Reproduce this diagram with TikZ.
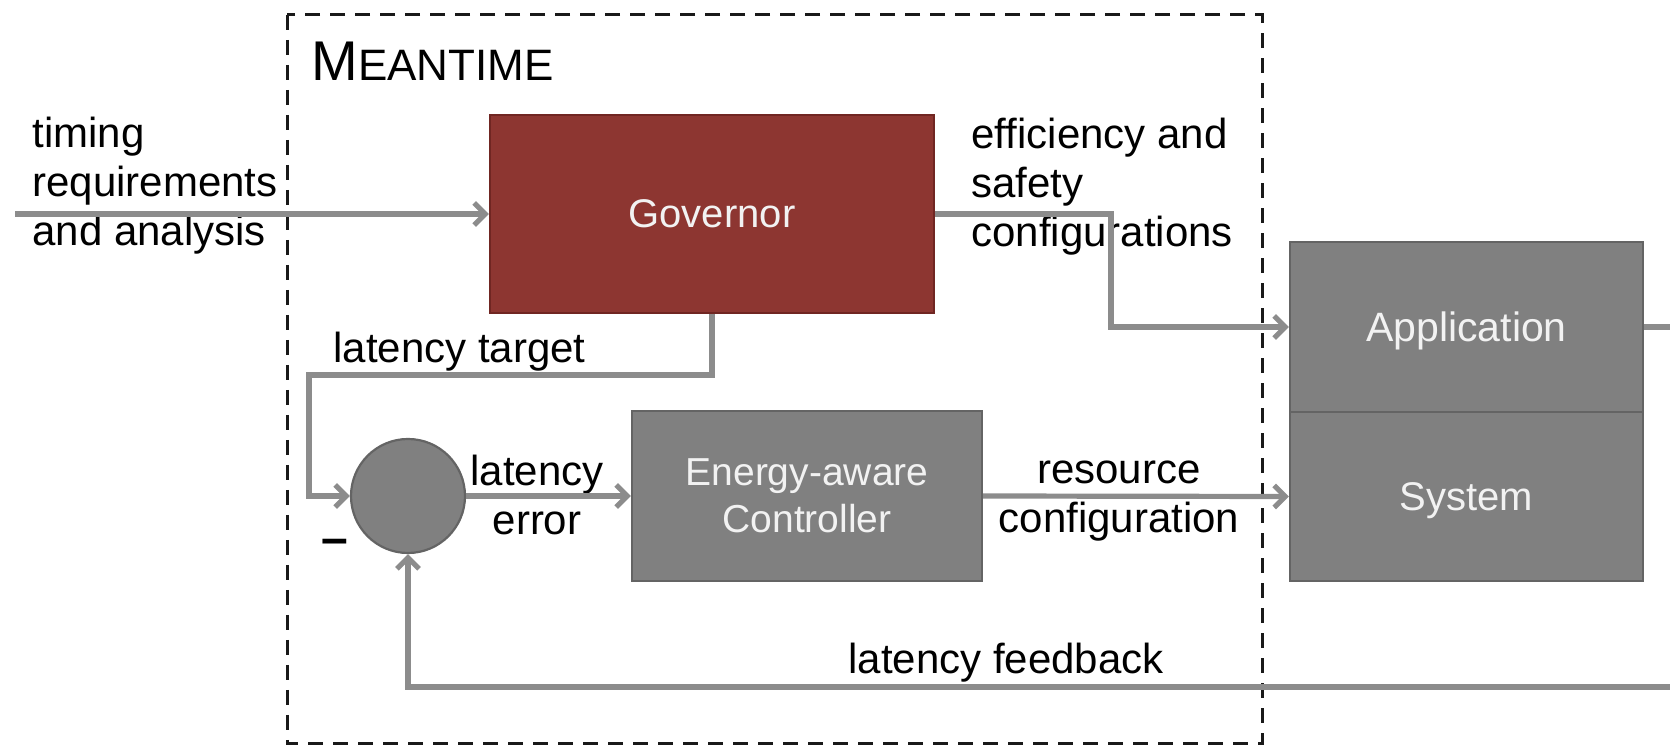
\documentclass[tikz,border=0pt]{standalone}
\usepackage{fontspec}
\setmainfont{Liberation Sans}
\usetikzlibrary{arrows.meta}

\definecolor{govred}{RGB}{141,54,49}
\definecolor{govedge}{RGB}{112,38,34}
\definecolor{boxgray}{RGB}{128,128,128}
\definecolor{boxedge}{RGB}{100,100,100}
\definecolor{wiregray}{RGB}{140,140,140}
\definecolor{boxtext}{RGB}{242,242,242}

\tikzset{
  x=0.5pt, y=-0.5pt,
  block/.style={draw=boxedge, fill=boxgray, line width=1.1pt, text=boxtext,
    align=center, inner sep=0pt,
    font=\fontsize{19.5}{23.5}\selectfont},
  govblock/.style={block, draw=govedge, fill=govred},
  wire/.style={draw=wiregray, line width=2.6pt},
  arr/.style={wire, -{Straight Barb[length=5.5pt,width=11pt]}},
  lbl/.style={inner sep=0pt, text=black, font=\fontsize{21}{24.5}\selectfont},
  frame/.style={draw=black!90, line width=1.5pt, dash pattern=on 7.5pt off 5pt},
}

\begin{document}
\begin{tikzpicture}
\useasboundingbox (0,0) rectangle (1670,747);

% enclosing dashed frame
\draw[frame] (287,15) rectangle (1262,744);
\node[lbl, anchor=base west] (title) at (311,81)
  {{\fontsize{28}{28}\selectfont M}{\fontsize{22}{22}\selectfont EANTIME}};

% blocks
\node[govblock, minimum width=222pt, minimum height=99pt,
      font=\fontsize{20}{24}\selectfont] (gov) at (712,214) {Governor};
\node[block, minimum width=175pt, minimum height=85pt] (ctrl) at (807,496) {Energy-aware\\Controller};
\node[block, minimum width=176.5pt, minimum height=85pt, text depth=0pt,
      font=\fontsize{20.5}{24}\selectfont] (app) at (1466.5,327) {Application};
\node[block, minimum width=176.5pt, minimum height=84.5pt, text depth=0pt,
      font=\fontsize{20}{24}\selectfont] (sys) at (1466.5,496.5) {System};
\node[circle, draw=boxedge, fill=boxgray, line width=1.1pt, minimum size=57pt, inner sep=0pt] (sum) at (408,496) {};

% labels
\node[lbl, anchor=west, align=left] (inlbl) at (32,186) {timing\\requirements\\and analysis};
\node[lbl, anchor=west, align=left] (efflbl) at (971,187) {efficiency and\\safety\\configurations};
\node[lbl, anchor=west] (tgtlbl) at (333,352) {latency target};
\node[lbl, align=center] (errlbl) at (537,495) {latency\\error};
\node[lbl, align=center] (reslbl) at (1119,501) {resource\\configuration};
\node[lbl] (fblbl) at (1006,663) {latency feedback};
\node[lbl, font=\fontsize{24}{24}\selectfont\bfseries] (minus) at (335,547) {–};

% turning points and free ends
\coordinate (src) at (15,214);
\coordinate (k1) at (1111,0);
\coordinate (k2) at (309,375);
\coordinate (appout) at (1672,327);
\coordinate (fbin) at (1672,687);

% connectors
\draw[arr] (src) -- (gov.west);
\draw[arr] (gov.east) -- (gov.east -| k1) -- (app.west -| k1) -- (app.west);
\draw[arr] (gov.south) |- (k2) |- (sum.west);
\draw[arr] (sum.east) -- (ctrl.west);
\draw[arr] (ctrl.east) -- (sys.west);
\draw[wire] (app.east) -- (appout);
\draw[arr] (fbin) -| (sum.south);
\end{tikzpicture}
\end{document}
